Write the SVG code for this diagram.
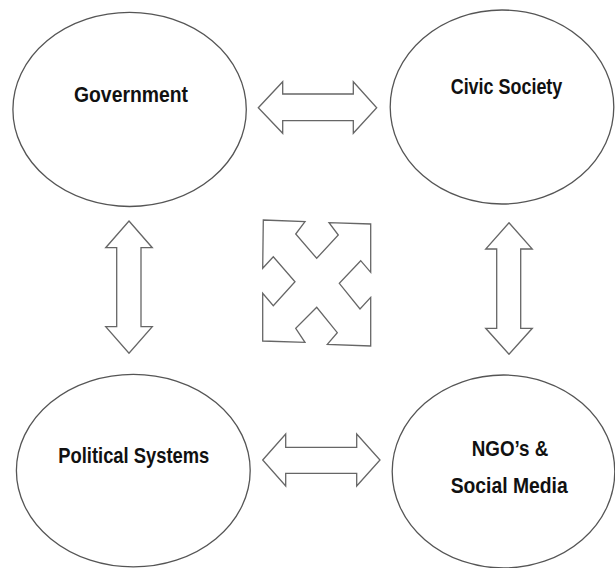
<svg xmlns="http://www.w3.org/2000/svg" width="615" height="568" viewBox="0 0 615 568">
<style>
.node ellipse{fill:#fff;stroke:#555;stroke-width:1.3}
.lbl{font-family:"Liberation Sans",Arial,sans-serif;font-weight:bold;font-size:22px;fill:#111}
.conn path{fill:#fff;stroke:#666;stroke-width:1.3;stroke-linejoin:miter}
</style>
<rect width="615" height="568" fill="#fff"/>
<g id="government" class="node">
<ellipse cx="129.6" cy="109.4" rx="116.7" ry="97.1"/>
<text class="lbl" x="74" y="101.7" textLength="114" lengthAdjust="spacingAndGlyphs">Government</text>
</g>
<g id="civic-society" class="node">
<ellipse cx="502" cy="107" rx="111.8" ry="97"/>
<text class="lbl" x="450.7" y="94.3" textLength="111.6" lengthAdjust="spacingAndGlyphs">Civic Society</text>
</g>
<g id="political-systems" class="node">
<ellipse cx="133.3" cy="470.6" rx="116.9" ry="96.3"/>
<text class="lbl" x="58.3" y="463.3" textLength="151" lengthAdjust="spacingAndGlyphs">Political Systems</text>
</g>
<g id="ngos-social-media" class="node">
<ellipse cx="503.5" cy="471.5" rx="111.3" ry="96.5"/>
<text class="lbl" x="471.7" y="456" textLength="76.6" lengthAdjust="spacingAndGlyphs">NGO’s &amp;</text>
<text class="lbl" x="450.7" y="492.7" textLength="117" lengthAdjust="spacingAndGlyphs">Social Media</text>
</g>
<g id="connectors" class="conn">
<path d="M258.3,107.7 L282.7,81.7 L282.7,94 L353.3,94 L353.3,81.7 L376.7,107.7 L353.3,133.3 L353.3,120.7 L282.7,120.7 L282.7,133.3 Z"/>
<path d="M262.7,460 L285.7,434 L285.7,447.3 L356.7,447.3 L356.7,434 L380,460 L356.7,486 L356.7,473.3 L285.7,473.3 L285.7,486 Z"/>
<path d="M129,221 L152.3,247.7 L141,247.7 L141,326.7 L152.3,326.7 L129,353.3 L105.7,326.7 L116.7,326.7 L116.7,247.7 L105.7,247.7 Z"/>
<path d="M509,222.7 L532.3,249 L520.7,249 L520.7,328.3 L532.3,328.3 L509,354.3 L485.7,328.3 L496.7,328.3 L496.7,249 L485.7,249 Z"/>
<path d="M263.3,220 L305,221.7 L295.7,234 L316.7,258.3 L338.3,235 L329,222.7 L370.7,224 L370.7,272.3 L360.7,260.7 L339.3,283.3 L360,309 L370.7,297.3 L370.7,346 L327.3,344.3 L337.3,332.7 L316.7,307.3 L295.7,328.3 L305,342.3 L262.7,341 L262.7,293.3 L273.3,305.7 L295,281.7 L273.3,256.7 L262.7,268.3 Z"/>
</g>
</svg>
